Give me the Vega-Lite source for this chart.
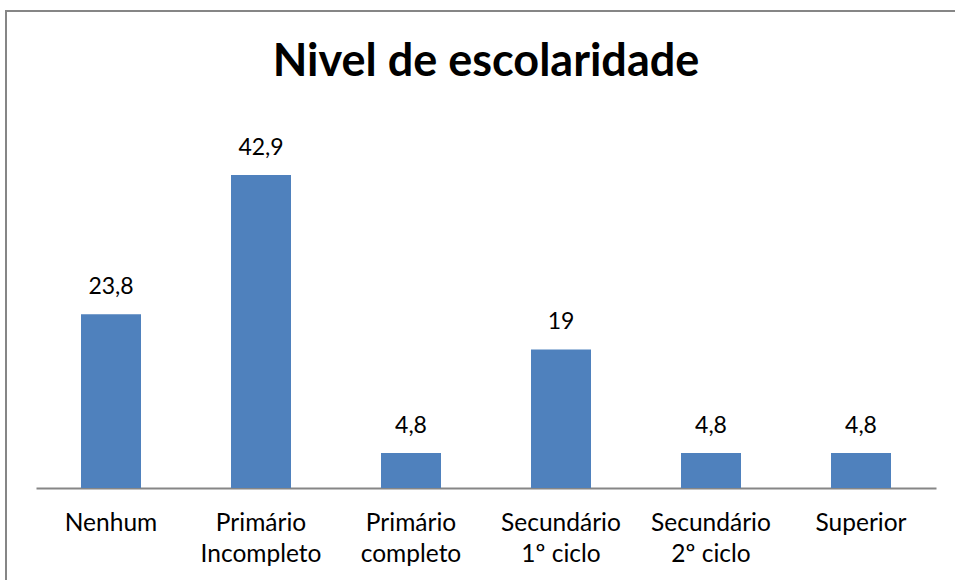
{
  "$schema": "https://vega.github.io/schema/vega-lite/v6.json",
  "autosize": "none",
  "padding": {"left": 6, "top": 11, "right": 0, "bottom": 0},
  "width": 960,
  "height": 580,
  "background": "white",
  "title": {
    "text": "Nivel de escolaridade",
    "font": "Lato",
    "fontSize": 45,
    "fontWeight": "bold",
    "color": "#000000",
    "anchor": "middle",
    "baseline": "alphabetic",
    "offset": 0,
    "dy": 110
  },
  "data": {
    "values": [
      {"categoria": "Nenhum", "valor": 23.8},
      {"categoria": "Primário Incompleto", "valor": 42.9},
      {"categoria": "Primário completo", "valor": 4.8},
      {"categoria": "Secundário 1º ciclo", "valor": 19},
      {"categoria": "Secundário 2º ciclo", "valor": 4.8},
      {"categoria": "Superior", "valor": 4.8}
    ]
  },
  "transform": [
    {"calculate": "replace(toString(datum.valor), '.', ',')", "as": "rotulo"}
  ],
  "encoding": {
    "x": {
      "field": "categoria",
      "type": "nominal",
      "sort": null,
      "scale": {"range": [30, 930], "paddingInner": 0.6, "paddingOuter": 0.3},
      "axis": {
        "title": null,
        "orient": "bottom",
        "offset": -103,
        "ticks": false,
        "domainColor": "#868686",
        "domainWidth": 2,
        "labelAngle": 0,
        "labelFont": "Lato",
        "labelFontSize": 24.5,
        "labelColor": "#000000",
        "labelBaseline": "top",
        "labelPadding": 23,
        "labelLineHeight": 31,
        "labelLimit": 0,
        "labelExpr": "indexof(datum.label, ' ') < 0 ? datum.label : [substring(datum.label, 0, indexof(datum.label, ' ')), substring(datum.label, indexof(datum.label, ' ') + 1)]"
      }
    },
    "y": {
      "field": "valor",
      "type": "quantitative",
      "scale": {"domain": [0, 50], "range": [477, 112.2], "nice": false, "zero": true},
      "axis": null
    }
  },
  "layer": [
    {"mark": {"type": "bar", "color": "#4F81BD"}},
    {
      "mark": {"type": "text", "font": "Lato", "fontSize": 23, "color": "#000000", "baseline": "alphabetic", "dy": -20},
      "encoding": {"text": {"field": "rotulo"}}
    }
  ],
  "config": {
    "view": {"stroke": "#868686", "strokeWidth": 2}
  }
}
